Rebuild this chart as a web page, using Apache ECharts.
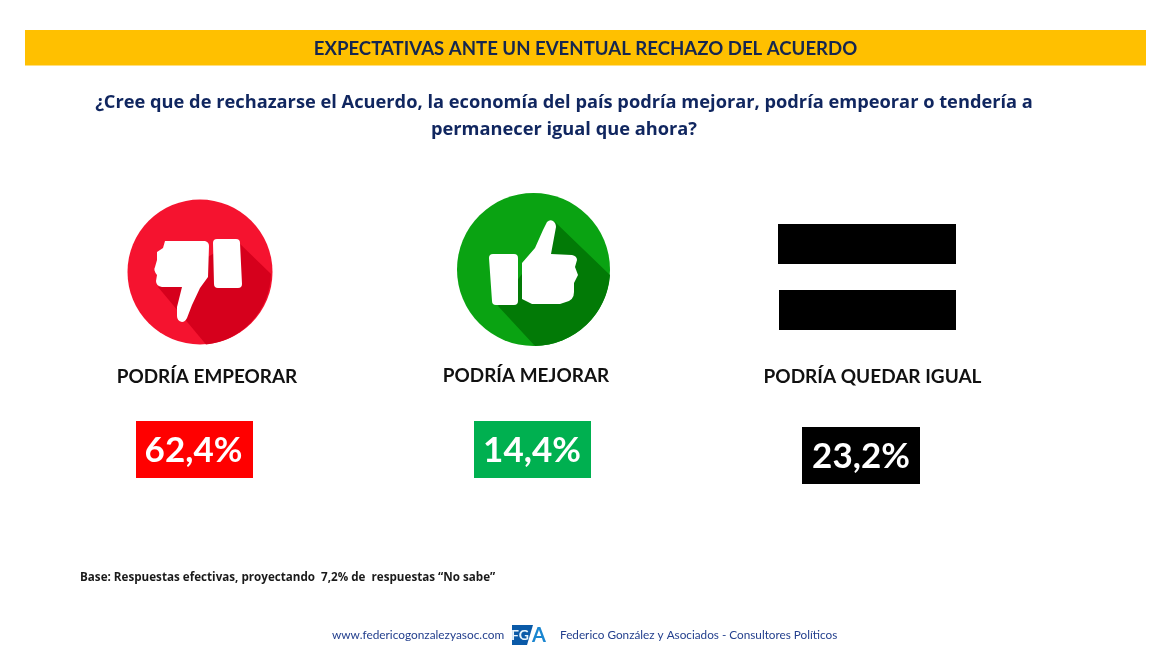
<!DOCTYPE html>
<html>
<head>
<meta charset="utf-8">
<title>Expectativas ante un eventual rechazo del acuerdo</title>
<script src="https://cdn.jsdelivr.net/npm/echarts@6/dist/echarts.min.js"></script>
<style>
html, body { margin: 0; padding: 0; background: #fff; }
#chart { width: 1170px; height: 657px; }
</style>
</head>
<body>
<div id="chart"></div>
<script>
var categories = ['PODRÍA EMPEORAR', 'PODRÍA MEJORAR', 'PODRÍA QUEDAR IGUAL'];
var values = [62.4, 14.4, 23.2];
var boxColors = ['#ff0000', '#00b050', '#000000'];
var titleText = 'EXPECTATIVAS ANTE UN EVENTUAL RECHAZO DEL ACUERDO';
var questionLines = [
    '¿Cree que de rechazarse el Acuerdo, la economía del país podría mejorar, podría empeorar o tendería a',
    'permanecer igual que ahora?'
];
var baseText = 'Base: Respuestas efectivas, proyectando  7,2% de  respuestas “No sabe”';
var footerLeft = 'www.federicogonzalezyasoc.com';
var footerRight = 'Federico González y Asociados - Consultores Políticos';

var LATO = 'Lato, sans-serif';
var OPEN = '"Open Sans", sans-serif';

function label(x, y, text, font, color, align) {
    return {
        type: 'text',
        x: x,
        y: y,
        style: {
            text: text,
            fill: color,
            font: font,
            textAlign: align || 'center',
            textVerticalAlign: 'middle'
        }
    };
}

function box(x, y, w, h, color) {
    return {
        type: 'rect',
        shape: {x: x, y: y, width: w, height: h},
        style: {fill: color}
    };
}

function percent(v) {
    return v.toFixed(1).replace('.', ',') + '%';
}

// the graphic component has no plain path type, so each icon part is registered as a shape
var iconCount = 0;
function icon(d, color) {
    var name = 'iconPart' + (iconCount++);
    echarts.graphic.registerShape(name, echarts.graphic.extendPath(d, {}));
    return {type: name, style: {fill: color}};
}

var elements = [
    box(25, 30, 1121, 35.5, '#ffc000'),
    label(585.5, 48.5, titleText, 'bold 18.6px ' + LATO, '#15264f'),
    label(564, 103, questionLines[0], 'bold 18.25px ' + OPEN, '#10265f'),
    label(564, 130, questionLines[1], 'bold 18.25px ' + OPEN, '#10265f'),

    // pulgar abajo
    {type: 'circle', shape: {cx: 200, cy: 272, r: 72.5}, style: {fill: '#f5132f'}},
    icon('M236 240L271 274A72.5 72.5 0 0 1 206 344.5L158 287Z', '#d6001c'),
    icon('M165 241L205 241Q209 242 209 246L208 277L200 288L192 305L187 318Q185 322 182 322Q177 321 177 316L177 307L182 287L162 287Q156 286 156 281L157 275Q153 270 155 267L157 260L157 252L163 248Z', '#ffffff'),
    icon('M217 239L236 239Q240 239 240 243L242 284Q242 288 238 288L218 288Q214 288 214 284L213 243Q213 239 217 239Z', '#ffffff'),

    // pulgar arriba
    {type: 'circle', shape: {cx: 533.5, cy: 269.5, r: 76.5}, style: {fill: '#0aa312'}},
    icon('M555 222L610 275A76.5 76.5 0 0 1 535 346L498 306L540 250Z', '#027a06'),
    icon('M493 254L514 254Q518 254 518 258L518 301Q518 305 514 305L496 305Q492 305 492 301L489 258Q489 254 493 254Z', '#ffffff'),
    icon('M522 263L535 248L543 230L547 222Q550 219 553 221Q556 223 556 227L551 254L572 255Q577 256 577 260L575 267L578 275L574 283L574 292Q574 300 566 302L560 304L532 304L522 299Z', '#ffffff'),

    // signo igual
    box(778, 224, 178, 40, '#000000'),
    box(779, 290, 177, 40, '#000000'),

    label(207, 377, categories[0], 'bold 18.9px ' + LATO, '#111111'),
    label(526, 376, categories[1], 'bold 18.9px ' + LATO, '#111111'),
    label(872.5, 377, categories[2], 'bold 19px ' + LATO, '#111111'),

    box(136, 421, 117, 57, boxColors[0]),
    box(474, 421, 117, 57, boxColors[1]),
    box(802, 427, 118, 57, boxColors[2]),
    label(193.5, 451, percent(values[0]), 'bold 35px ' + LATO, '#ffffff'),
    label(532, 451, percent(values[1]), 'bold 35px ' + LATO, '#ffffff'),
    label(861, 457, percent(values[2]), 'bold 35px ' + LATO, '#ffffff'),

    label(80, 578, baseText, 'bold 11.65px ' + OPEN, '#1a1a1a', 'left'),

    label(332, 635.5, footerLeft, '11.85px ' + LATO, '#24408e', 'left'),
    {type: 'polygon', shape: {points: [[512, 625], [533, 625], [527, 645], [512, 645]]}, style: {fill: '#0a5aa8'}},
    label(520, 635.5, 'FG', 'bold 14px ' + LATO, '#e8f4fc'),
    label(539, 635.5, 'A', 'bold 20px ' + LATO, '#1a86d0'),
    label(560, 635.5, footerRight, '11.75px ' + LATO, '#24408e', 'left')
];

var myChart = echarts.init(document.getElementById('chart'));
myChart.setOption({
    backgroundColor: '#ffffff',
    animation: false,
    graphic: {elements: elements}
});
</script>
</body>
</html>
